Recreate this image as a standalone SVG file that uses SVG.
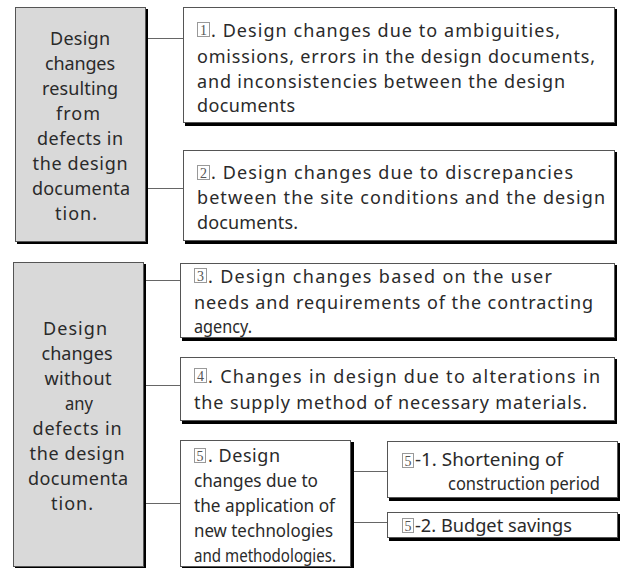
<svg xmlns="http://www.w3.org/2000/svg" width="621" height="568" viewBox="0 0 621 568">
<style>
.sh{fill:#000}
.bx{fill:#fff;stroke:#555;stroke-width:1}
.gr{fill:#d9d9d9;stroke:#555;stroke-width:1}
.t{font-family:"Noto Sans","DejaVu Sans",sans-serif;font-size:18px;fill:#2a2a2a}
.c{text-anchor:middle}
.nb{fill:#fff;stroke:#999;stroke-width:1}
.nd{font-family:"Liberation Serif",serif;font-size:14px;fill:#555;text-anchor:middle}
.ln{stroke:#666;stroke-width:1;fill:none}
</style>
<g id="connectors">
<line class="ln" x1="148" y1="38.5" x2="183" y2="38.5"/>
<line class="ln" x1="148" y1="188.5" x2="183" y2="188.5"/>
<line class="ln" x1="146" y1="280.5" x2="180" y2="280.5"/>
<line class="ln" x1="146" y1="385.5" x2="180" y2="385.5"/>
<line class="ln" x1="146" y1="503.5" x2="180" y2="503.5"/>
<line class="ln" x1="353" y1="471.5" x2="387" y2="471.5"/>
<line class="ln" x1="353" y1="522.5" x2="387" y2="522.5"/>
</g>
<g id="cat1">
<rect class="sh" x="17" y="9" width="131" height="235"/>
<rect class="gr" x="15.5" y="7.5" width="130" height="234"/>
<text class="t c" x="80" y="45" textLength="60" lengthAdjust="spacing">Design</text>
<text class="t c" x="80" y="70" textLength="70" lengthAdjust="spacing">changes</text>
<text class="t c" x="80" y="95" textLength="76" lengthAdjust="spacing">resulting</text>
<text class="t c" x="78" y="120" textLength="44" lengthAdjust="spacing">from</text>
<text class="t c" x="80" y="145" textLength="86" lengthAdjust="spacing">defects in</text>
<text class="t c" x="80" y="170" textLength="95" lengthAdjust="spacing">the design</text>
<text class="t c" x="81" y="195" textLength="98" lengthAdjust="spacing">documenta</text>
<text class="t c" x="76" y="220" textLength="42" lengthAdjust="spacing">tion.</text>
</g>
<g id="item1">
<rect class="sh" x="185" y="9" width="432" height="117"/>
<rect class="bx" x="183.5" y="7.5" width="431" height="115"/>
<rect class="nb" x="197.5" y="22.5" width="12" height="14"/>
<text class="nd" x="203.5" y="35">1</text>
<text class="t" x="211" y="37" textLength="349" lengthAdjust="spacing">. Design changes due to ambiguities,</text>
<text class="t" x="197" y="63" textLength="398" lengthAdjust="spacing">omissions, errors in the design documents,</text>
<text class="t" x="197" y="88" textLength="368" lengthAdjust="spacing">and inconsistencies between the design</text>
<text class="t" x="197" y="112" textLength="98" lengthAdjust="spacing">documents</text>
</g>
<g id="item2">
<rect class="sh" x="185" y="152" width="432" height="92"/>
<rect class="bx" x="183.5" y="150.5" width="431" height="90"/>
<rect class="nb" x="197.5" y="165.5" width="12" height="14"/>
<text class="nd" x="203.5" y="178">2</text>
<text class="t" x="211" y="179" textLength="362" lengthAdjust="spacing">. Design changes due to discrepancies</text>
<text class="t" x="197" y="204" textLength="408" lengthAdjust="spacing">between the site conditions and the design</text>
<text class="t" x="197" y="229" textLength="101" lengthAdjust="spacing">documents.</text>
</g>
<g id="cat2">
<rect class="sh" x="15" y="264" width="131" height="305"/>
<rect class="gr" x="13.5" y="262.5" width="130" height="304"/>
<text class="t c" x="75" y="335" textLength="64" lengthAdjust="spacing">Design</text>
<text class="t c" x="77" y="360" textLength="71" lengthAdjust="spacing">changes</text>
<text class="t c" x="78" y="385" textLength="67" lengthAdjust="spacing">without</text>
<text class="t c" x="79" y="410" textLength="28" lengthAdjust="spacingAndGlyphs">any</text>
<text class="t c" x="77" y="435" textLength="89" lengthAdjust="spacing">defects in</text>
<text class="t c" x="77" y="460" textLength="95" lengthAdjust="spacing">the design</text>
<text class="t c" x="78" y="485" textLength="100" lengthAdjust="spacing">documenta</text>
<text class="t c" x="72" y="510" textLength="42" lengthAdjust="spacing">tion.</text>
</g>
<g id="item3">
<rect class="sh" x="182" y="265" width="435" height="76"/>
<rect class="bx" x="180.5" y="263.5" width="434" height="74"/>
<rect class="nb" x="194.5" y="268.5" width="12" height="14"/>
<text class="nd" x="200.5" y="281">3</text>
<text class="t" x="208" y="283" textLength="344" lengthAdjust="spacing">. Design changes based on the user</text>
<text class="t" x="194" y="309" textLength="399" lengthAdjust="spacing">needs and requirements of the contracting</text>
<text class="t" x="194" y="333" textLength="58" lengthAdjust="spacingAndGlyphs">agency.</text>
</g>
<g id="item4">
<rect class="sh" x="182" y="359" width="435" height="65"/>
<rect class="bx" x="180.5" y="357.5" width="434" height="63"/>
<rect class="nb" x="194.5" y="368.5" width="12" height="14"/>
<text class="nd" x="200.5" y="381">4</text>
<text class="t" x="208" y="383" textLength="392" lengthAdjust="spacing">. Changes in design due to alterations in</text>
<text class="t" x="194" y="409" textLength="393" lengthAdjust="spacing">the supply method of necessary materials.</text>
</g>
<g id="item5">
<rect class="sh" x="182" y="442" width="172" height="127"/>
<rect class="bx" x="180.5" y="440.5" width="170" height="126"/>
<rect class="nb" x="194.5" y="448.5" width="11" height="14"/>
<text class="nd" x="200" y="461">5</text>
<text class="t" x="208" y="462" textLength="72" lengthAdjust="spacing">. Design</text>
<text class="t" x="194" y="487" textLength="124" lengthAdjust="spacingAndGlyphs">changes due to</text>
<text class="t" x="194" y="512" textLength="141" lengthAdjust="spacingAndGlyphs">the application of</text>
<text class="t" x="194" y="537" textLength="139" lengthAdjust="spacingAndGlyphs">new technologies</text>
<text class="t" x="194" y="562" textLength="142" lengthAdjust="spacingAndGlyphs">and methodologies.</text>
</g>
<g id="item5-1">
<rect class="sh" x="389" y="443" width="231" height="58"/>
<rect class="bx" x="387.5" y="441.5" width="230" height="56"/>
<rect class="nb" x="402.5" y="453.5" width="11" height="14"/>
<text class="nd" x="408" y="466">5</text>
<text class="t" x="415" y="466" textLength="148" lengthAdjust="spacingAndGlyphs">-1. Shortening of</text>
<text class="t" x="448" y="490" textLength="152" lengthAdjust="spacingAndGlyphs">construction period</text>
</g>
<g id="item5-2">
<rect class="sh" x="389" y="514" width="231" height="27"/>
<rect class="bx" x="387.5" y="512.5" width="230" height="25"/>
<rect class="nb" x="402.5" y="518.5" width="11" height="14"/>
<text class="nd" x="408" y="531">5</text>
<text class="t" x="415" y="532" textLength="157" lengthAdjust="spacingAndGlyphs">-2. Budget savings</text>
</g>
</svg>
